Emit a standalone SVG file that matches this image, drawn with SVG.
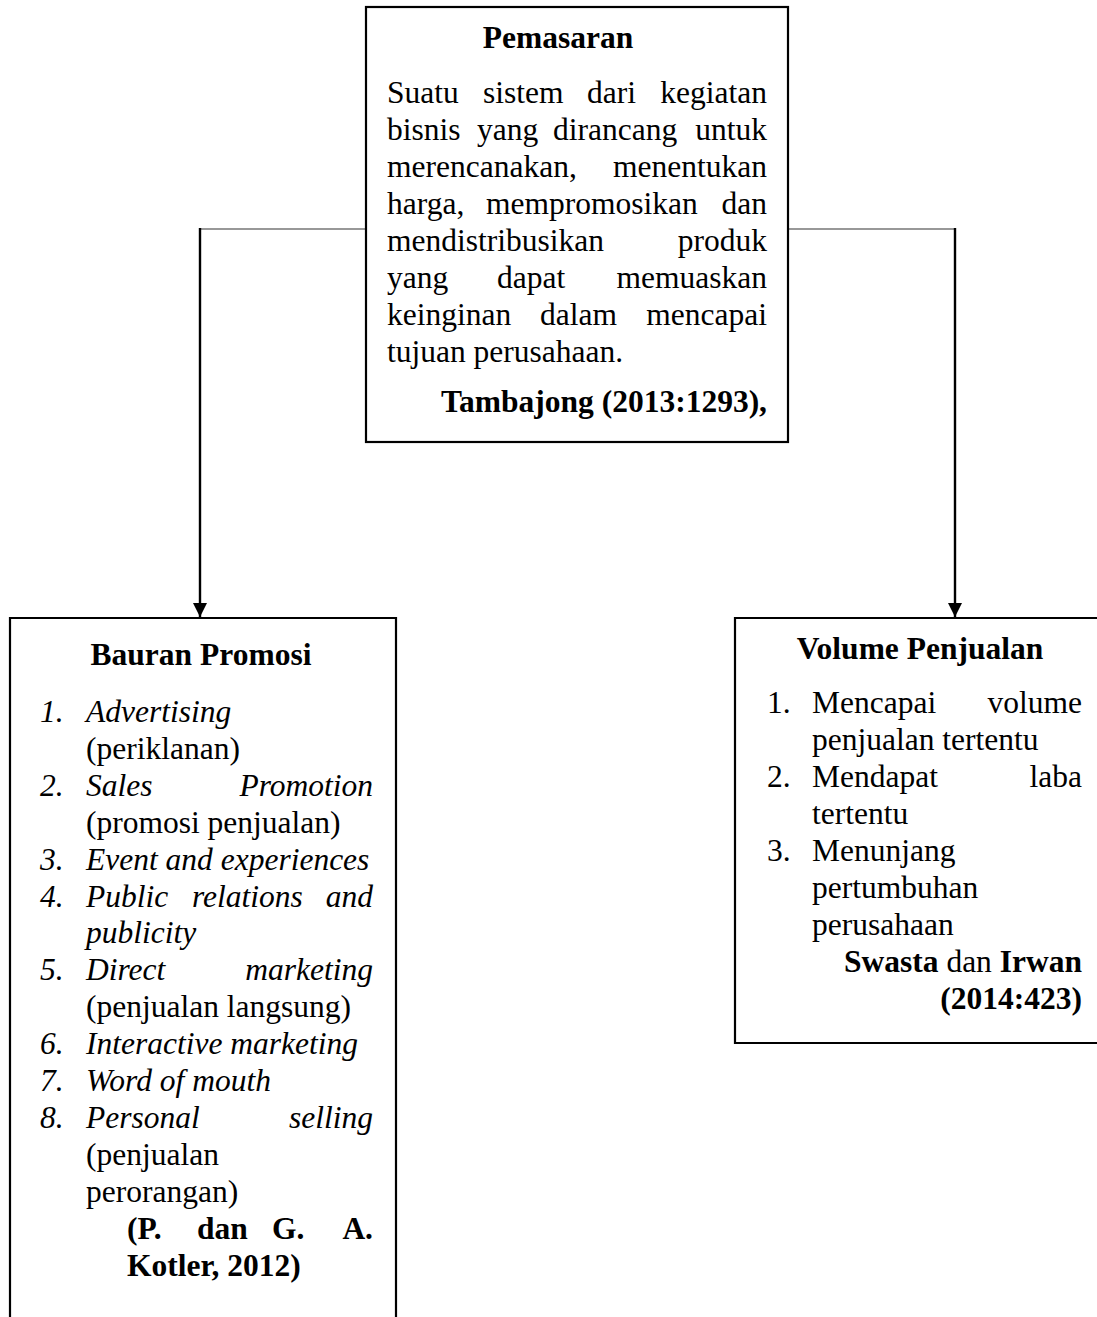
<svg xmlns="http://www.w3.org/2000/svg" width="1097" height="1317" viewBox="0 0 1097 1317">
<style>
text{font-family:"Liberation Serif","Times New Roman",serif;font-size:31.5px;fill:#000}
.b{font-weight:bold}
.i{font-style:italic}
.e{text-anchor:end}
.m{text-anchor:middle}
.box{fill:#fff;stroke:#000;stroke-width:2.2}
.h{stroke:#333;stroke-width:1.2;fill:none}
.v{stroke:#000;stroke-width:2.4;fill:none}
</style>
<defs>
<marker id="ah" viewBox="0 0 14 14" refX="14" refY="7" markerWidth="14" markerHeight="14" markerUnits="userSpaceOnUse" orient="auto">
<path d="M0,0 L14,7 L0,14 Z" fill="#000"/>
</marker>
</defs>
<rect width="1097" height="1317" fill="#fff"/>
<g id="connectors">
<path class="h" d="M366,229 H200"/>
<path class="v" d="M200,228 V617" marker-end="url(#ah)"/>
<path class="h" d="M788,229 H955"/>
<path class="v" d="M955,228 V617" marker-end="url(#ah)"/>
</g>
<g id="pemasaran">
<rect class="box" x="366" y="7" width="422" height="435"/>
<text class="b m" x="558" y="48">Pemasaran</text>
<text x="387" y="103">Suatu</text><text x="483" y="103">sistem</text><text x="587" y="103">dari</text><text class="e" x="767" y="103">kegiatan</text>
<text x="387" y="140">bisnis</text><text x="477" y="140">yang</text><text x="553" y="140">dirancang</text><text class="e" x="767" y="140">untuk</text>
<text x="387" y="177">merencanakan,</text><text class="e" x="767" y="177">menentukan</text>
<text x="387" y="214">harga,</text><text x="486" y="214">mempromosikan</text><text class="e" x="767" y="214">dan</text>
<text x="387" y="251">mendistribusikan</text><text class="e" x="767" y="251">produk</text>
<text x="387" y="288">yang</text><text x="497" y="288">dapat</text><text class="e" x="767" y="288">memuaskan</text>
<text x="387" y="325">keinginan</text><text x="540" y="325">dalam</text><text class="e" x="767" y="325">mencapai</text>
<text x="387" y="362">tujuan perusahaan.</text>
<text class="b e" x="767" y="412">Tambajong (2013:1293),</text>
</g>
<g id="bauran-promosi">
<path class="box" d="M10,1330 V618 H396 V1330"/>
<text class="b m" x="201" y="665">Bauran Promosi</text>
<text class="i" x="40" y="722">1.</text><text class="i" x="86" y="722">Advertising</text>
<text x="86" y="759">(periklanan)</text>
<text class="i" x="40" y="796">2.</text><text class="i" x="86" y="796">Sales</text><text class="i e" x="373" y="796">Promotion</text>
<text x="86" y="833">(promosi penjualan)</text>
<text class="i" x="40" y="870">3.</text><text class="i" x="86" y="870">Event and experiences</text>
<text class="i" x="40" y="907">4.</text><text class="i" x="86" y="907">Public</text><text class="i" x="192" y="907">relations</text><text class="i e" x="373" y="907">and</text>
<text class="i" x="86" y="943">publicity</text>
<text class="i" x="40" y="980">5.</text><text class="i" x="86" y="980">Direct</text><text class="i e" x="373" y="980">marketing</text>
<text x="86" y="1017">(penjualan langsung)</text>
<text class="i" x="40" y="1054">6.</text><text class="i" x="86" y="1054">Interactive marketing</text>
<text class="i" x="40" y="1091">7.</text><text class="i" x="86" y="1091">Word of mouth</text>
<text class="i" x="40" y="1128">8.</text><text class="i" x="86" y="1128">Personal</text><text class="i e" x="373" y="1128">selling</text>
<text x="86" y="1165">(penjualan</text>
<text x="86" y="1202">perorangan)</text>
<text class="b" x="127" y="1239">(P.</text><text class="b" x="197" y="1239">dan</text><text class="b" x="272" y="1239">G.</text><text class="b e" x="373" y="1239">A.</text>
<text class="b" x="127" y="1276">Kotler, 2012)</text>
</g>
<g id="volume-penjualan">
<path class="box" d="M1110,1043 H735 V618 H1110"/>
<text class="b m" x="920" y="659">Volume Penjualan</text>
<text x="767" y="713">1.</text><text x="812" y="713">Mencapai</text><text class="e" x="1082" y="713">volume</text>
<text x="812" y="750">penjualan tertentu</text>
<text x="767" y="787">2.</text><text x="812" y="787">Mendapat</text><text class="e" x="1082" y="787">laba</text>
<text x="812" y="824">tertentu</text>
<text x="767" y="861">3.</text><text x="812" y="861">Menunjang</text>
<text x="812" y="898">pertumbuhan</text>
<text x="812" y="935">perusahaan</text>
<text class="e" x="1082" y="972"><tspan class="b">Swasta</tspan> dan <tspan class="b">Irwan</tspan></text>
<text class="b e" x="1082" y="1009">(2014:423)</text>
</g>
</svg>
